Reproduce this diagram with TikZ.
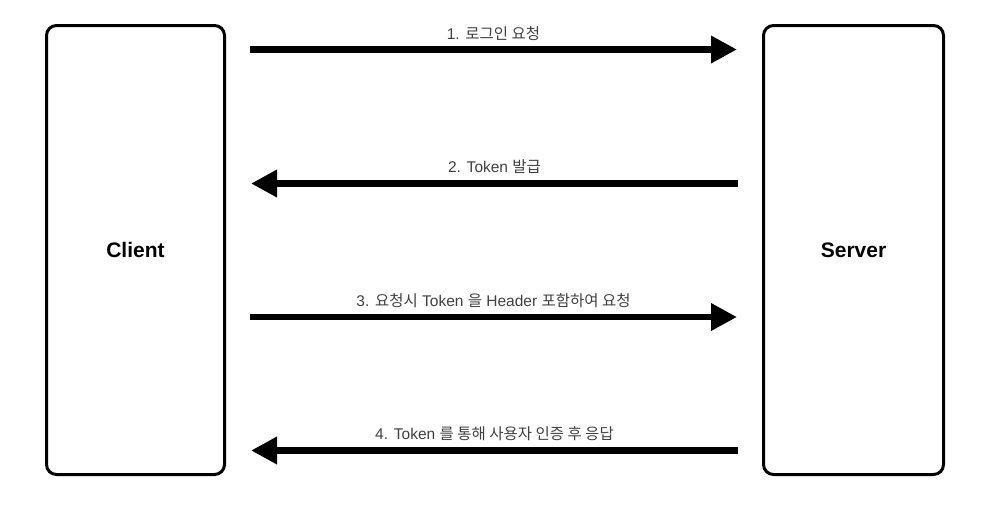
\documentclass[tikz,border=0pt]{standalone}
\usepackage{fontspec}
\setmainfont{Liberation Sans}
\newfontfamily\kr{Noto Sans CJK KR}
\usetikzlibrary{arrows.meta}
\begin{document}
\begin{tikzpicture}[x=1pt,y=-1pt,
  party/.style={draw=black,line width=3pt,rounded corners=10pt,fill=white,
    font=\fontsize{21}{25}\selectfont\bfseries},
  msg/.style={line width=6.5pt,-{Triangle[length=26pt,width=26pt]}},
  lbl/.style={anchor=base,text=black!75,inner sep=0pt,font=\fontsize{15.5}{18}\selectfont}]
\useasboundingbox (0,0) rectangle (987,507);
\node[party,minimum width=178pt,minimum height=449pt] (client) at (135.5,250) {Client};
\node[party,minimum width=180pt,minimum height=449pt] (server) at (853.5,250) {Server};
\coordinate (c1) at (250,49.5);   \coordinate (s1) at (737,49.5);
\coordinate (s2) at (738,183.5);  \coordinate (c2) at (251,183.5);
\coordinate (c3) at (250,317);    \coordinate (s3) at (737,317);
\coordinate (s4) at (738,450.5);  \coordinate (c4) at (251,450.5);
\draw[msg] (c1) -- (s1) node[lbl,pos=0.5,yshift=10pt] (l1) {1. {\kr 로그인 요청}};
\draw[msg] (s2) -- (c2) node[lbl,pos=0.5,yshift=11pt] (l2) {2. Token {\kr 발급}};
\draw[msg] (c3) -- (s3) node[lbl,pos=0.5,yshift=11pt] (l3) {3. {\kr 요청시} Token {\kr 을} Header {\kr 포함하여 요청}};
\draw[msg] (s4) -- (c4) node[lbl,pos=0.5,yshift=11pt] (l4) {4. Token {\kr 를 통해 사용자 인증 후 응답}};
\end{tikzpicture}
\end{document}
